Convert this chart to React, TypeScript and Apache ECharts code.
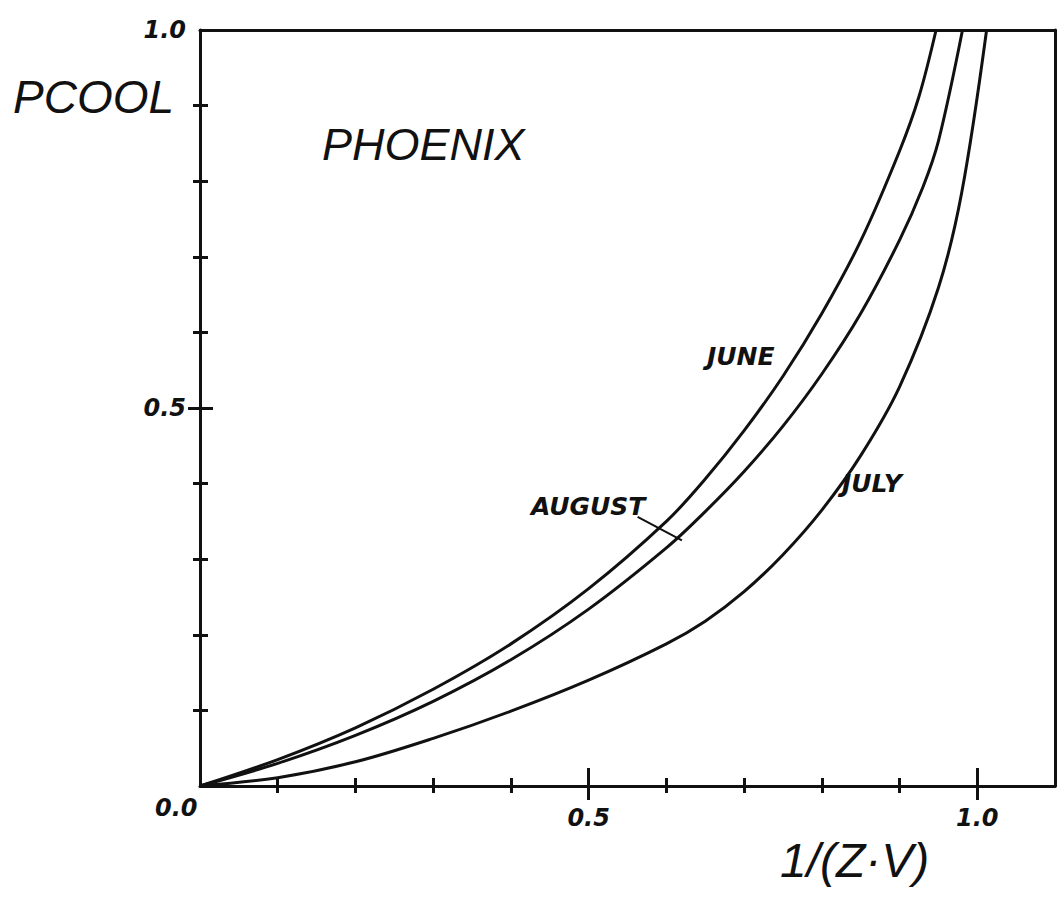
import React, { useEffect, useRef } from "react";
import * as echarts from "echarts";

// Data (x = 1/(Z·V), y = PCOOL)
const juneX = [0, 0.1, 0.2, 0.3, 0.4, 0.5, 0.6, 0.65, 0.7, 0.75, 0.8, 0.85, 0.9, 0.925, 0.947];
const juneY = [0, 0.035, 0.077, 0.128, 0.188, 0.261, 0.35, 0.406, 0.47, 0.542, 0.625, 0.721, 0.84, 0.912, 1.0];
const augustX = [0, 0.1, 0.2, 0.3, 0.4, 0.5, 0.6, 0.65, 0.7, 0.75, 0.8, 0.85, 0.9, 0.93, 0.95, 0.981];
const augustY = [0, 0.03, 0.067, 0.112, 0.167, 0.234, 0.315, 0.363, 0.416, 0.476, 0.545, 0.625, 0.722, 0.792, 0.853, 1.0];
const julyX = [0, 0.1, 0.2, 0.3, 0.4, 0.5, 0.6, 0.65, 0.7, 0.75, 0.8, 0.85, 0.9, 0.95, 0.98, 1.012];
const julyY = [0, 0.011, 0.032, 0.063, 0.099, 0.14, 0.188, 0.218, 0.257, 0.306, 0.365, 0.437, 0.528, 0.659, 0.785, 1.0];

const xMinorTicks = [0.1, 0.2, 0.3, 0.4, 0.6, 0.7, 0.8, 0.9];
const xMajorTicks = [0.5, 1.0];
const yMinorTicks = [0.1, 0.2, 0.3, 0.4, 0.6, 0.7, 0.8, 0.9];
const yMajorTicks = [0.5];
const xTickLabels = [0.5, 1.0];
const yTickLabels = [0.5, 1.0];
const augustLeader = [[0.563, 0.356], [0.62, 0.325]];

const FONT = "Liberation Sans";
const BOLD_FONT = "DejaVu Sans";
const INK = "#111";

const zip = (xs: number[], ys: number[]) => xs.map((x, i) => [x, ys[i]]);
const isIn = (v: number, arr: number[]) => arr.some((a) => Math.abs(a - v) < 1e-6);

export default function App() {
  const ref = useRef<HTMLDivElement>(null);
  useEffect(() => {
    if (!ref.current) return;
    const chart = echarts.init(ref.current, null, { renderer: "svg" });

    const baseX = (extra: any) => ({
      type: "value",
      gridIndex: 0,
      min: 0,
      max: 1.1,
      interval: 0.1,
      position: "bottom",
      axisLine: { show: false, onZero: false },
      splitLine: { show: false },
      axisLabel: { show: false },
      axisTick: { show: false },
      ...extra,
    });
    const baseY = (extra: any) => ({
      type: "value",
      gridIndex: 0,
      min: 0,
      max: 1.0,
      interval: 0.1,
      position: "left",
      axisLine: { show: false, onZero: false },
      splitLine: { show: false },
      axisLabel: { show: false },
      axisTick: { show: false },
      ...extra,
    });
    const tickStyle = { color: INK, width: 3 };
    const labelStyle = {
      fontFamily: BOLD_FONT,
      fontStyle: "italic",
      fontWeight: "bold",
      fontSize: 24,
      color: INK,
    };

    const lineSeries = (name: string, data: number[][]) => ({
      name,
      type: "line",
      xAxisIndex: 0,
      yAxisIndex: 0,
      data,
      smooth: 0.35,
      showSymbol: false,
      symbol: "none",
      lineStyle: { color: INK, width: 3 },
      clip: true,
    });

    chart.setOption({
      animation: false,
      backgroundColor: "#fff",
      grid: { left: 200, right: 7, top: 30, bottom: 112, containLabel: false, outerBoundsMode: "none" },
      xAxis: [
        baseX({
          axisLine: { show: true, onZero: false, lineStyle: { color: INK, width: 3 } },
          axisTick: { show: true, inside: false, length: 7, lineStyle: tickStyle, customValues: xMinorTicks },
          axisLabel: {
            show: true,
            margin: 20,
            ...labelStyle,
            customValues: xTickLabels,
            formatter: (v: number) => (isIn(v, xTickLabels) ? v.toFixed(1) : ""),
          },
        }),
        baseX({ axisTick: { show: true, inside: true, length: 8, lineStyle: tickStyle, customValues: xMinorTicks } }),
        baseX({ axisTick: { show: true, inside: false, length: 14, lineStyle: tickStyle, customValues: xMajorTicks } }),
        baseX({ axisTick: { show: true, inside: true, length: 18, lineStyle: tickStyle, customValues: xMajorTicks } }),
        baseX({ position: "top", axisLine: { show: true, onZero: false, lineStyle: { color: INK, width: 3 } } }),
      ],
      yAxis: [
        baseY({
          axisLine: { show: true, onZero: false, lineStyle: { color: INK, width: 3 } },
          axisTick: { show: true, inside: false, length: 7, lineStyle: tickStyle, customValues: yMinorTicks },
          axisLabel: {
            show: true,
            margin: 14,
            ...labelStyle,
            customValues: yTickLabels,
            formatter: (v: number) => (isIn(v, yTickLabels) ? v.toFixed(1) : ""),
          },
        }),
        baseY({ axisTick: { show: true, inside: true, length: 8, lineStyle: tickStyle, customValues: yMinorTicks } }),
        baseY({ axisTick: { show: true, inside: false, length: 12, lineStyle: tickStyle, customValues: yMajorTicks } }),
        baseY({ axisTick: { show: true, inside: true, length: 13, lineStyle: tickStyle, customValues: yMajorTicks } }),
        baseY({ position: "right", axisLine: { show: true, onZero: false, lineStyle: { color: INK, width: 3 } } }),
      ],
      series: [
        lineSeries("JUNE", zip(juneX, juneY)),
        {
          ...lineSeries("AUGUST", zip(augustX, augustY)),
          markLine: {
            silent: true,
            symbol: ["none", "none"],
            label: { show: false },
            lineStyle: { color: INK, width: 2, type: "solid" },
            data: [[{ coord: augustLeader[0] }, { coord: augustLeader[1] }]],
          },
        },
        lineSeries("JULY", zip(julyX, julyY)),
      ],
      graphic: [
        {
          type: "text",
          left: 13,
          top: 74,
          style: { text: "PCOOL", fontFamily: FONT, fontStyle: "italic", fontSize: 46, fill: INK },
        },
        {
          type: "text",
          left: 322,
          top: 122,
          style: { text: "PHOENIX", fontFamily: FONT, fontStyle: "italic", fontSize: 45, fill: INK },
        },
        {
          type: "text",
          left: 780,
          top: 836,
          style: { text: "1/(Z·V)", fontFamily: FONT, fontStyle: "italic", fontSize: 48, fill: INK },
        },
        {
          type: "text",
          left: 155,
          top: 796,
          style: { text: "0.0", ...labelStyle, fill: INK },
        },
        {
          type: "text",
          left: 707,
          top: 344,
          style: { text: "JUNE", ...labelStyle, fontSize: 25, fill: INK },
        },
        {
          type: "text",
          left: 531,
          top: 494,
          style: { text: "AUGUST", ...labelStyle, fontSize: 25, fill: INK },
        },
        {
          type: "text",
          left: 842,
          top: 471,
          style: { text: "JULY", ...labelStyle, fontSize: 25, fill: INK },
        },
      ],
    });
    return () => chart.dispose();
  }, []);
  return (
    <div
      ref={ref}
      style={{ position: "absolute", left: 0, top: 0, width: 1062, height: 898, background: "#fff" }}
    />
  );
}
